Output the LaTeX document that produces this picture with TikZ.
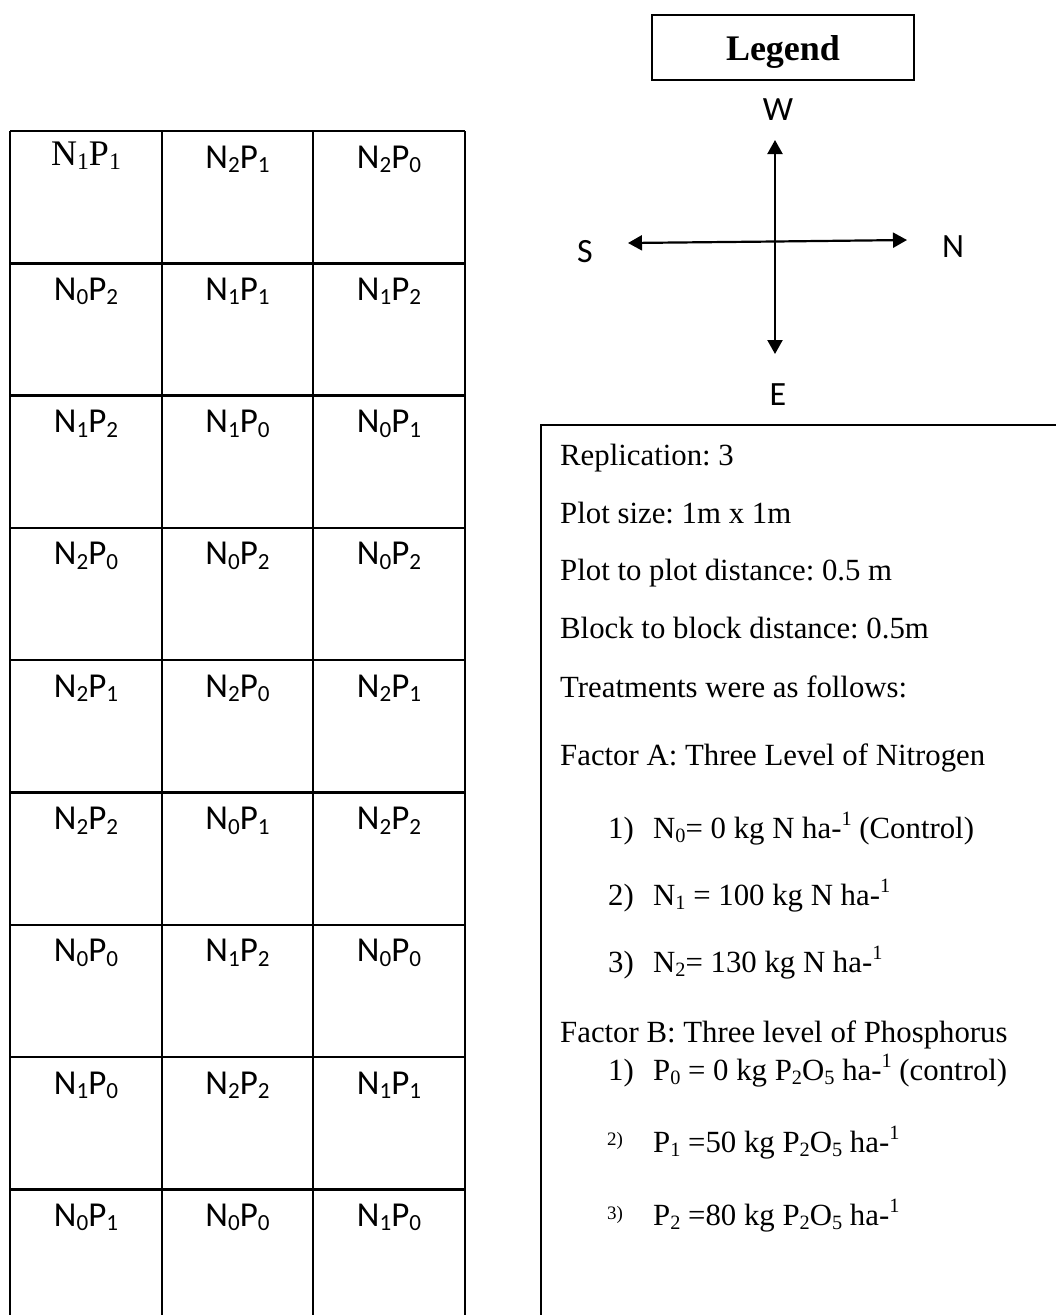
\documentclass[tikz,border=0pt]{standalone}
\usepackage{fontspec}
\setmainfont{Liberation Serif}
\newfontfamily\calfont{Carlito}
\usetikzlibrary{arrows.meta}
\newcommand\mysub[1]{\raisebox{-0.13em}{\scalebox{0.66}{#1}}}
\newcommand\mysup[1]{\raisebox{0.42em}{\scalebox{0.66}{#1}}}
\frenchspacing
\begin{document}
\begin{tikzpicture}[x=1pt,y=-1pt,
  gridline/.style={line width=2.5pt},
  cl/.style={font=\calfont\fontsize{35}{40}\selectfont, anchor=base, inner sep=0pt},
  tl/.style={font=\fontsize{36}{40}\selectfont, anchor=base, inner sep=0pt},
  txt/.style={font=\fontsize{30.8}{36}\selectfont, anchor=base west, inner sep=0pt},
  smalltxt/.style={font=\fontsize{19}{22}\selectfont, anchor=base west, inner sep=0pt},
  dirlab/.style={font=\calfont\fontsize{34}{40}\selectfont, inner sep=0pt},
  tip/.style={-{Triangle[length=14pt,width=15pt]}},
  compass/.style={line width=2.2pt}
]
\useasboundingbox[fill=white] (0,0) rectangle (1056,1315);

% ---- field layout grid ----
\foreach \x in {10,162,313,465} \draw[gridline] (\x,131) -- (\x,1315);
\foreach \i in {0,...,8} \draw[gridline] (10,{131+132.3*\i}) -- (465,{131+132.3*\i});

% row label baselines: row top + 37
\node[tl] (r1c1) at (86,165) {N\mysub{1}P\mysub{1}};
\node[cl] (r1c2) at (237.5,168) {N\mysub{2}P\mysub{1}};
\node[cl] (r1c3) at (389,168) {N\mysub{2}P\mysub{0}};

\node[cl] (r2c1) at (86,{131+132.3*1+37}) {N\mysub{0}P\mysub{2}};
\node[cl] (r2c2) at (237.5,{131+132.3*1+37}) {N\mysub{1}P\mysub{1}};
\node[cl] (r2c3) at (389,{131+132.3*1+37}) {N\mysub{1}P\mysub{2}};

\node[cl] (r3c1) at (86,{131+132.3*2+37}) {N\mysub{1}P\mysub{2}};
\node[cl] (r3c2) at (237.5,{131+132.3*2+37}) {N\mysub{1}P\mysub{0}};
\node[cl] (r3c3) at (389,{131+132.3*2+37}) {N\mysub{0}P\mysub{1}};

\node[cl] (r4c1) at (86,{131+132.3*3+37}) {N\mysub{2}P\mysub{0}};
\node[cl] (r4c2) at (237.5,{131+132.3*3+37}) {N\mysub{0}P\mysub{2}};
\node[cl] (r4c3) at (389,{131+132.3*3+37}) {N\mysub{0}P\mysub{2}};

\node[cl] (r5c1) at (86,{131+132.3*4+37}) {N\mysub{2}P\mysub{1}};
\node[cl] (r5c2) at (237.5,{131+132.3*4+37}) {N\mysub{2}P\mysub{0}};
\node[cl] (r5c3) at (389,{131+132.3*4+37}) {N\mysub{2}P\mysub{1}};

\node[cl] (r6c1) at (86,{131+132.3*5+37}) {N\mysub{2}P\mysub{2}};
\node[cl] (r6c2) at (237.5,{131+132.3*5+37}) {N\mysub{0}P\mysub{1}};
\node[cl] (r6c3) at (389,{131+132.3*5+37}) {N\mysub{2}P\mysub{2}};

\node[cl] (r7c1) at (86,{131+132.3*6+37}) {N\mysub{0}P\mysub{0}};
\node[cl] (r7c2) at (237.5,{131+132.3*6+37}) {N\mysub{1}P\mysub{2}};
\node[cl] (r7c3) at (389,{131+132.3*6+37}) {N\mysub{0}P\mysub{0}};

\node[cl] (r8c1) at (86,{131+132.3*7+37}) {N\mysub{1}P\mysub{0}};
\node[cl] (r8c2) at (237.5,{131+132.3*7+37}) {N\mysub{2}P\mysub{2}};
\node[cl] (r8c3) at (389,{131+132.3*7+37}) {N\mysub{1}P\mysub{1}};

\node[cl] (r9c1) at (86,{131+132.3*8+37}) {N\mysub{0}P\mysub{1}};
\node[cl] (r9c2) at (237.5,{131+132.3*8+37}) {N\mysub{0}P\mysub{0}};
\node[cl] (r9c3) at (389,{131+132.3*8+37}) {N\mysub{1}P\mysub{0}};

% ---- legend title ----
\node[draw, line width=2pt, minimum width=262pt, minimum height=65pt, inner sep=0pt] (legend) at (783,47.5) {};
\node[font=\bfseries\fontsize{36}{40}\selectfont, anchor=base, inner sep=0pt] (legendtxt) at (783,60) {Legend};

% ---- compass ----
\coordinate (cc) at (775,241.5);
\coordinate (wt) at (775,140);
\coordinate (et) at (775,354);
\coordinate (st) at (628,243);
\coordinate (nt) at (907,240);
\draw[compass,tip] (cc) -- (wt);
\draw[compass,tip] (cc) -- (et);
\draw[compass,tip] (cc) -- (st);
\draw[compass,tip] (cc) -- (nt);
\node[dirlab] (W) at (778,110) {W};
\node[dirlab] (S) at (585,252) {S};
\node[dirlab] (N) at (953,247) {N};
\node[dirlab] (E) at (778,395) {E};

% ---- description box ----
\draw[line width=1.2pt] (1056,425) -- (541,425) -- (541,1315);
\node[txt] (t1) at (560,465) {Replication: 3};
\node[txt] (t2) at (560,523) {Plot size: 1m x 1m};
\node[txt] (t3) at (560,580) {Plot to plot distance: 0.5 m};
\node[txt] (t4) at (560,638) {Block to block distance: 0.5m};
\node[txt] (t5) at (560,697) {Treatments were as follows:};
\node[txt] (t6) at (560,765) {Factor A: Three Level of Nitrogen};
\node[txt] (a1n) at (608,838) {1)};
\node[txt] (a1) at (653,838) {N\mysub{0}= 0 kg N ha-\mysup{1} (Control)};
\node[txt] (a2n) at (608,905) {2)};
\node[txt] (a2) at (653,905) {N\mysub{1} = 100 kg N ha-\mysup{1}};
\node[txt] (a3n) at (608,972) {3)};
\node[txt] (a3) at (653,972) {N\mysub{2}= 130 kg N ha-\mysup{1}};
\node[txt] (t7) at (560,1042) {Factor B: Three level of Phosphorus};
\node[txt] (b1n) at (608,1080) {1)};
\node[txt] (b1) at (653,1080) {P\mysub{0} = 0 kg P\mysub{2}O\mysub{5} ha-\mysup{1} (control)};
\node[smalltxt] (b2n) at (607,1145) {2)};
\node[txt] (b2) at (653,1152) {P\mysub{1} =50 kg P\mysub{2}O\mysub{5} ha-\mysup{1}};
\node[smalltxt] (b3n) at (607,1219) {3)};
\node[txt] (b3) at (653,1225) {P\mysub{2} =80 kg P\mysub{2}O\mysub{5} ha-\mysup{1}};
\end{tikzpicture}
\end{document}
